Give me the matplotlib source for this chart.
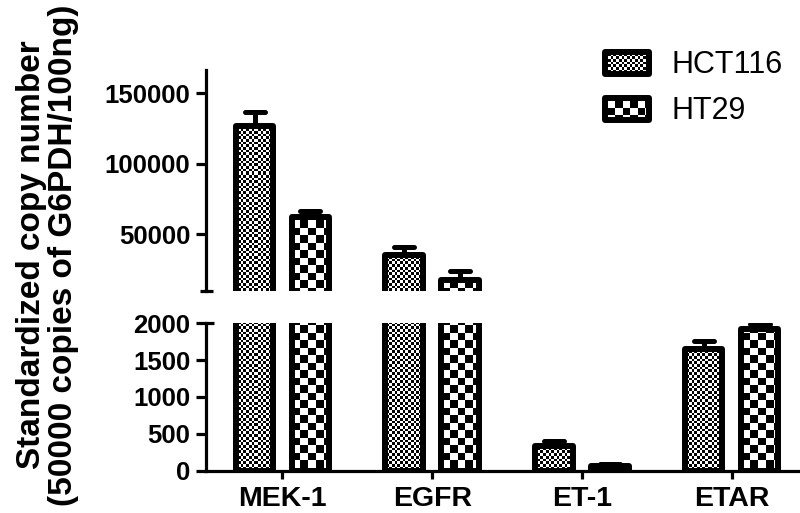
import numpy as np
import matplotlib
matplotlib.use("Agg")
import matplotlib.pyplot as plt
from matplotlib.patches import Rectangle
from matplotlib.markers import MarkerStyle

# ---------------- data ----------------
categories = ["MEK-1", "EGFR", "ET-1", "ETAR"]
series_names = ["HCT116", "HT29"]
hct116_mean = [127000, 35300, 339, 1650]
hct116_err = [9500, 6000, 70, 110]
ht29_mean = [62000, 17600, 65, 1923]
ht29_err = [4800, 6400, 30, 65]
upper_ticks = [50000, 100000, 150000]
lower_ticks = [0, 500, 1000, 1500, 2000]
upper_range = (10000, 166500)
lower_range = (0, 2000)

# ---------------- layout ----------------
W, H, DPI = 800, 513, 100
plt.rcParams["font.family"] = ["Liberation Sans", "DejaVu Sans"]
fig = plt.figure(figsize=(W / DPI, H / DPI), dpi=DPI)
fig.patch.set_facecolor("white")


def px_axes(left, top, right, bottom):
    return [left / W, (H - bottom) / H, (right - left) / W, (bottom - top) / H]


ax_up = fig.add_axes(px_axes(206, 70, 800, 290.7))
ax_lo = fig.add_axes(px_axes(206, 323.3, 800, 470.7))
ax_ov = fig.add_axes([0, 0, 1, 1], zorder=10)
ax_ov.set_xlim(0, W)
ax_ov.set_ylim(H, 0)
ax_ov.axis("off")

XLIM = (-0.511, 3.457)
OFFSET = 0.187
WIDTH = 0.25
EDGE_LW = 4.3
SPINE_LW = 2.3
CELLS = [2.7, 7.5]  # checker cell size in pixels (fine / coarse)


def checker_array(ix0, ix1, iy0, iy1, cell):
    cols = np.arange(ix0, ix1)
    rows = np.arange(iy0, iy1)
    cx = np.floor(cols / cell).astype(int)
    cy = np.floor(rows / cell).astype(int)
    return ((cy[:, None] + cx[None, :]) % 2).astype(float)


def checker_fill(ax, patch, cell):
    x0, y0 = patch.get_x(), patch.get_y()
    w, h = patch.get_width(), patch.get_height()
    ylo, yhi = ax.get_ylim()
    yb, yt = max(y0, ylo), min(y0 + h, yhi)
    if yt <= yb:
        return
    px0, py0 = ax.transData.transform((x0, yb))
    px1, py1 = ax.transData.transform((x0 + w, yt))
    ix0, ix1 = int(np.floor(px0)), int(np.ceil(px1))
    iy0, iy1 = int(np.floor(py0)), int(np.ceil(py1))
    arr = checker_array(ix0, ix1, iy0, iy1, cell)
    inv = ax.transData.inverted()
    dx0, dy0 = inv.transform((ix0, iy0))
    dx1, dy1 = inv.transform((ix1, iy1))
    im = ax.imshow(arr, cmap="gray", vmin=0, vmax=1, origin="lower",
                   extent=(dx0, dx1, dy0, dy1), interpolation="nearest",
                   aspect="auto", zorder=2)
    im.set_clip_path(patch)


x = np.arange(len(categories))
series = [(hct116_mean, hct116_err, -OFFSET, CELLS[0]),
          (ht29_mean, ht29_err, +OFFSET, CELLS[1])]

for ax, ylim in [(ax_up, upper_range), (ax_lo, lower_range)]:
    ax.set_xlim(*XLIM)
    ax.set_ylim(*ylim)
    for means, errs, off, cell in series:
        bars = ax.bar(x + off, means, WIDTH, facecolor="none", edgecolor="black",
                      linewidth=EDGE_LW, joinstyle="round", zorder=3)
        for b in bars:
            checker_fill(ax, b, cell)
        eb = ax.errorbar(x + off, means, yerr=[np.zeros(len(errs)), errs], fmt="none",
                         ecolor="black", elinewidth=3.6, capsize=7.5, capthick=3.6,
                         zorder=4)
        for cap in eb[1]:
            cap.set_marker(MarkerStyle("_", capstyle="round"))
    ax.set_xlim(*XLIM)
    ax.set_ylim(*ylim)
    ax.set_facecolor("none")
    for s in ["top", "right"]:
        ax.spines[s].set_visible(False)
    for s in ["left", "bottom"]:
        ax.spines[s].set_linewidth(SPINE_LW)
    ax.tick_params(axis="y", length=7.2, width=SPINE_LW, pad=4, direction="out")

# upper segment
ax_up.spines["bottom"].set_visible(False)
ax_up.set_xticks([])
ax_up.set_yticks(upper_ticks, labels=[str(t) for t in upper_ticks],
                 fontsize=18.5, fontweight="bold")

# lower segment
ax_lo.set_yticks(lower_ticks, labels=[str(t) for t in lower_ticks],
                 fontsize=18.5, fontweight="bold")
ax_lo.set_xticks(x, labels=categories, fontsize=20.5, fontweight="bold")
ax_lo.tick_params(axis="x", length=5.8, width=SPINE_LW, pad=5, direction="out")

# segment end caps of the broken axis
ax_ov.plot([200, 213], [290.7, 290.7], color="black", lw=SPINE_LW, solid_capstyle="butt")
ax_ov.plot([206, 214], [323.3, 323.3], color="black", lw=SPINE_LW, solid_capstyle="butt")

# y label
fig.text(0.059, 0.503, "Standardized copy number\n(50000 copies of G6PDH/100ng)",
         rotation=90, ha="center", va="center", fontsize=24, fontweight="bold",
         linespacing=1.05, multialignment="center")

# legend (manual, pixel coordinates)
legend_rows = [(series_names[0], CELLS[0], 49), (series_names[1], CELLS[1], 95)]
for name, cell, top in legend_rows:
    rect = Rectangle((605, top + 3), 44, 22, facecolor="none", edgecolor="black",
                     linewidth=EDGE_LW, joinstyle="round", zorder=3)
    ax_ov.add_patch(rect)
    arr = checker_array(605, 649, H - (top + 25), H - (top + 3), cell)[::-1]
    im = ax_ov.imshow(arr, cmap="gray", vmin=0, vmax=1, origin="upper",
                      extent=(605, 649, top + 25, top + 3), interpolation="nearest",
                      aspect="auto", zorder=2)
    im.set_clip_path(rect)
    ax_ov.text(672, top + 24, name, fontsize=22, ha="left", va="baseline")
ax_ov.set_xlim(0, W)
ax_ov.set_ylim(H, 0)

fig.savefig("out.png", dpi=DPI)
